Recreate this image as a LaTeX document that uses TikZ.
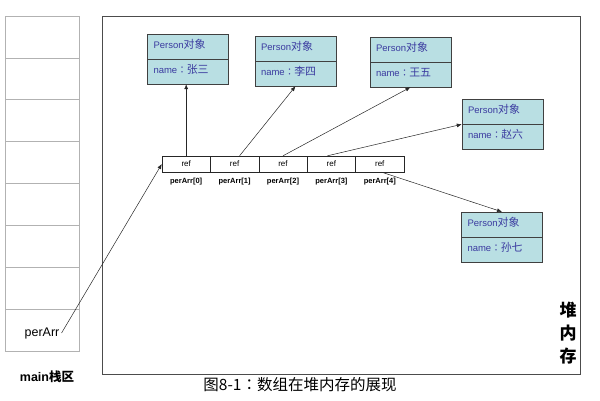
\documentclass[tikz,border=0pt]{standalone}
\usepackage{fontspec}
\setmainfont{Liberation Sans}
\newfontfamily\cjk{Noto Sans CJK SC}
\newfontfamily\cjkb{Noto Sans CJK SC}[Scale=1.15]
\newfontfamily\cjkjp{Noto Sans CJK JP}
\newcommand{\fcolon}{{\cjkjp ：}}
\usetikzlibrary{arrows.meta}
\definecolor{boxfill}{HTML}{B9DFE3}
\definecolor{boxtext}{HTML}{3B3BA0}
\begin{document}
\begin{tikzpicture}[x=1pt,y=-1pt,
  pbox/.style={draw=black!75, fill=boxfill, text=boxtext, minimum width=81pt, minimum height=25pt, text width=69pt, inner xsep=6pt, inner ysep=1pt, text height=7pt, text depth=4pt, align=left, font=\fontsize{9.5}{10}\selectfont},
  cell/.style={draw=black!85, minimum width=48.4pt, minimum height=16pt, inner sep=0pt, font=\fontsize{8}{9}\selectfont},
  idx/.style={font=\bfseries\fontsize{7.5}{8}\selectfont, inner sep=1pt},
  arr/.style={-{Latex[length=5pt,width=4pt]}, draw=black!85, line width=0.5pt},
  stackcell/.style={draw=black!30, minimum width=74pt, minimum height=41.9pt, inner sep=0pt, line width=0.7pt},
  heapbox/.style={draw=black!70, line width=0.8pt, inner sep=0pt}
]
\useasboundingbox (0,0) rectangle (600,400);
% stack
\foreach \i in {1,...,8} \node[stackcell] (s\i) at (42,{16+41.9*(\i-0.5)}) {};
\node[font=\fontsize{12.5}{14}\selectfont, inner sep=1pt] (perArr) at (42,333) {perArr};
\node[font=\bfseries\fontsize{12.5}{14}\selectfont] (mlab) at (47,377) {main{\cjk 栈区}};
% heap
\node[heapbox, minimum width=478pt, minimum height=358pt] (heap) at (341,195) {};
\node[font=\cjk\bfseries\fontsize{17}{23}\selectfont, align=center, inner sep=0pt] (heapl) at (568,333) {堆\\内\\存};
% person objects
\node[pbox] (p1t) at (188,46.5) {Person{\cjkb 对象}};
\node[pbox] (p1b) at (188,71.5) {name\fcolon{\cjkb 张三}};
\node[pbox] (p2t) at (295.5,48.5) {Person{\cjkb 对象}};
\node[pbox] (p2b) at (295.5,73.5) {name\fcolon{\cjkb 李四}};
\node[pbox] (p3t) at (410.5,49.5) {Person{\cjkb 对象}};
\node[pbox] (p3b) at (410.5,74.5) {name\fcolon{\cjkb 王五}};
\node[pbox] (p4t) at (502.5,112) {Person{\cjkb 对象}};
\node[pbox] (p4b) at (502.5,137) {name\fcolon{\cjkb 赵六}};
\node[pbox] (p5t) at (502,224.5) {Person{\cjkb 对象}};
\node[pbox] (p5b) at (502,249.5) {name\fcolon{\cjkb 孙七}};
% array
\foreach \i in {0,...,4} {
  \node[cell] (c\i) at ({186.2+48.4*\i},164) {ref};
  \node[idx] (l\i) at ({186.2+48.4*\i},182) {perArr[\i]};
}
% arrows
\draw[arr] (c0.north) -- (c0.north |- p1b.south);
\draw[arr] ([xshift=5pt]c1.north) -- (p2b.south);
\draw[arr] (c2.north) -- (p3b.south);
\draw[arr] ([xshift=-4pt]c3.north) -- (p4b.north west);
\draw[arr] ([xshift=2pt]c4.south) -- (p5t.north);
\draw[arr] ([xshift=1pt]perArr.east) -- (c0.west);
% caption
\node[font=\cjk\fontsize{15.5}{18}\selectfont] (cap) at (300,385) {图8-1\fcolon 数组在堆内存的展现};
\end{tikzpicture}
\end{document}
